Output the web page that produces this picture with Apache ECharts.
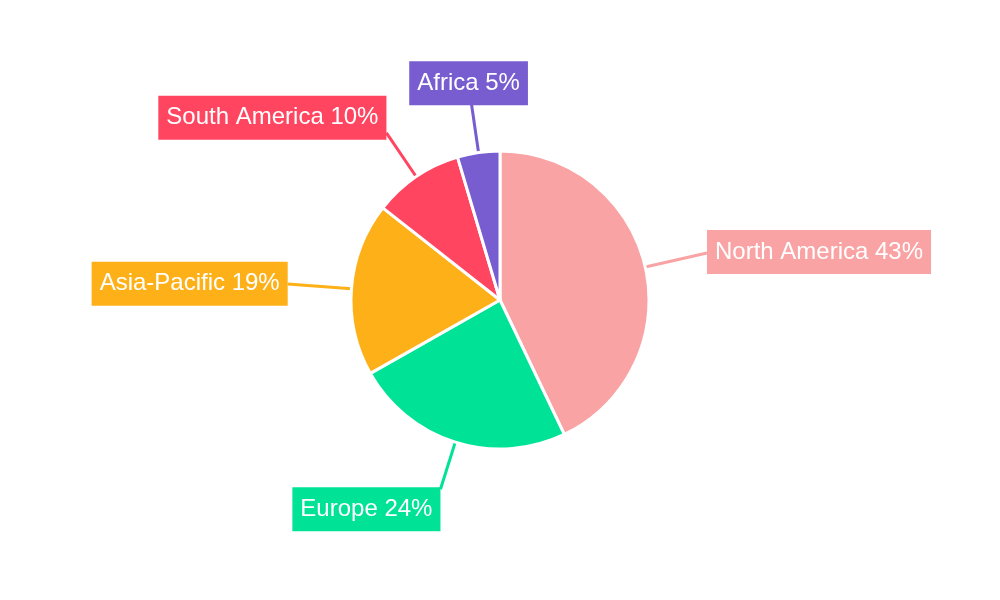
<!DOCTYPE html>
<html>
<head>
<meta charset="utf-8">
<script src="https://cdn.jsdelivr.net/npm/echarts@6/dist/echarts.min.js"></script>
<style>
  html, body { margin: 0; padding: 0; background: #fff; }
  #main { width: 1000px; height: 600px; }
</style>
</head>
<body>
<div id="main"></div>
<script>
  // regions, clockwise from 12 o'clock
  var regions = ['North America', 'Europe', 'Asia-Pacific', 'South America', 'Africa'];
  var shares = [42.9, 23.9, 18.8, 9.8, 4.6];
  var colors = ['#F9A3A4', '#00E396', '#FEB019', '#FF4560', '#775DD0'];

  var myChart = echarts.init(document.getElementById('main'));

  var pieData = regions.map(function (name, i) {
    return {
      name: name,
      value: shares[i],
      itemStyle: { color: colors[i] },
      label: { backgroundColor: colors[i] },
      labelLine: { lineStyle: { color: colors[i] } }
    };
  });

  myChart.setOption({
    animation: false,
    series: [{
      type: 'pie',
      center: [500, 300],
      radius: 149,
      startAngle: 90,
      clockwise: true,
      avoidLabelOverlap: false,
      itemStyle: { borderColor: '#fff', borderWidth: 3 },
      emphasis: { scale: false },
      label: {
        show: true,
        position: 'outside',
        color: '#fff',
        fontFamily: 'Liberation Sans, Arial, sans-serif',
        fontSize: 24,
        lineHeight: 26,
        padding: [9, 8],
        formatter: function (p) {
          return p.name + ' ' + Math.round(p.percent) + '%';
        }
      },
      labelLine: {
        show: true,
        length: 50,
        length2: 0,
        lineStyle: { width: 3 }
      },
      // straight leader line, box hung off its end on the side facing away from the pie
      labelLayout: function (params) {
        var pts = params.labelLinePoints;
        if (!pts) return;
        var sx = pts[0][0], sy = pts[0][1];
        var vx = pts[1][0] - sx, vy = pts[1][1] - sy;
        var len = Math.sqrt(vx * vx + vy * vy) || 1;
        var dx = vx / len, dy = vy / len;
        var reach = 48 + 16 * dx * dx;
        var ex = sx + dx * reach, ey = sy + dy * reach;
        var w = params.labelRect.width, h = params.labelRect.height;
        var ox = Math.abs(dx) < 0.2 ? -3 : (dx > 0 ? 1 : -1) * w / 2;
        var oy = (dy > 0 ? 1 : -1) * h / 2 * dy * dy;
        return {
          x: ex + ox,
          y: ey + oy,
          align: 'center',
          verticalAlign: 'middle',
          labelLinePoints: [[sx, sy], [ex, ey], [ex, ey]]
        };
      },
      data: pieData
    }]
  });
</script>
</body>
</html>
